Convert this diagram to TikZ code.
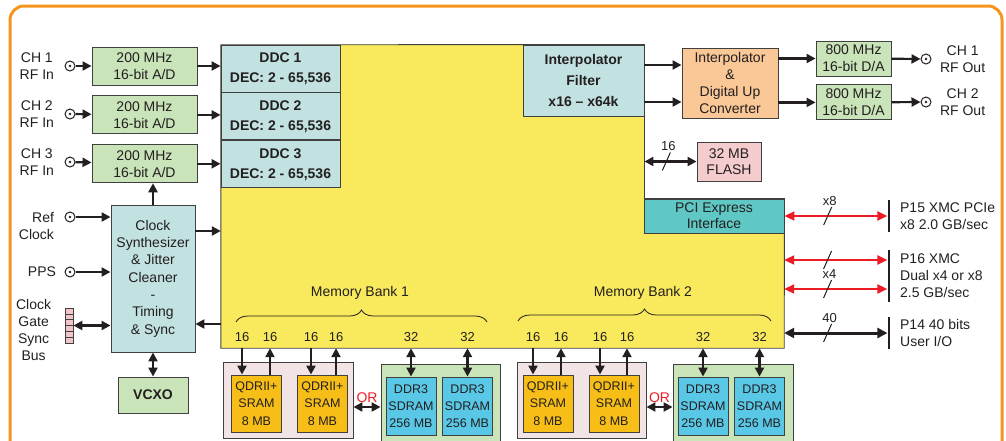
\documentclass[tikz,border=0pt]{standalone}
\usepackage{fontspec}
\setmainfont{Liberation Sans}
\usepackage{xcolor}
\usepackage{tikz}
\usetikzlibrary{arrows.meta,decorations.pathreplacing,decorations.markings,backgrounds,positioning,fit}

\definecolor{ink}{RGB}{35,31,32}
\definecolor{boxline}{RGB}{64,64,64}
\definecolor{fpgayellow}{RGB}{249,233,92}
\definecolor{ddcteal}{RGB}{193,226,224}
\definecolor{adgreen}{RGB}{200,228,184}
\definecolor{ducorange}{RGB}{249,200,150}
\definecolor{flashpink}{RGB}{245,204,206}
\definecolor{qdrbg}{RGB}{242,228,228}
\definecolor{qdrorange}{RGB}{247,190,24}
\definecolor{ddrcyan}{RGB}{88,200,230}
\definecolor{pciteal}{RGB}{95,200,196}
\definecolor{frameorange}{RGB}{247,148,29}
\definecolor{busred}{RGB}{237,28,36}
\definecolor{cellpink}{RGB}{242,196,202}

\begin{document}
\begin{tikzpicture}
		[x=1pt,y=-1pt,
		every node/.style={font=\fontsize{14}{17}\selectfont,text=ink},
		box/.style={draw=boxline,line width=0.9pt,inner sep=0pt,align=center},
		adbox/.style={box,fill=adgreen,minimum width=105,minimum height=38},
		dacbox/.style={box,fill=adgreen,minimum width=75,minimum height=35},
		ddcbox/.style={box,fill=ddcteal,minimum width=119,minimum height=47,font=\bfseries\fontsize{14}{20}\selectfont},
		qdrbox/.style={box,fill=qdrorange,minimum width=50,minimum height=57,font=\fontsize{12.5}{17.5}\selectfont},
		ddrbox/.style={box,fill=ddrcyan,minimum width=50,minimum height=58,font=\fontsize{12.5}{17}\selectfont},
		conn/.style={circle,draw=ink,line width=1pt,minimum size=10pt,inner sep=0pt,fill=white,
			path picture={\fill[ink] (path picture bounding box.center) circle (1.3pt);}},
		pbar/.style={fill=ink,minimum width=2.8,inner sep=0pt},
		num/.style={font=\fontsize{13}{15}\selectfont},
		arr/.style={draw=ink,line width=2.2pt,-{Triangle[length=9pt,width=9pt]}},
		dblarr/.style={draw=ink,line width=2.2pt,{Triangle[length=9pt,width=9pt]}-{Triangle[length=9pt,width=9pt]}},
		redbus/.style={draw=busred,line width=2pt,{Triangle[length=10pt,width=9pt]}-{Triangle[length=10pt,width=9pt]}},
		blackbus/.style={draw=ink,line width=3pt,{Triangle[length=10pt,width=10pt]}-{Triangle[length=10pt,width=10pt]}},
		buswidth/.style={postaction={decorate,decoration={markings,mark=at position 0.42 with
			{\draw[-,ink,line width=1pt] (-4pt,-9pt) -- (4pt,9pt); \node[num] at (2pt,15pt) {#1};}}}},
		brace/.style={decorate,decoration={brace,amplitude=12pt},draw=ink,line width=0.8pt}]
		\useasboundingbox (0,0) rectangle (1006,440);
		\clip (0,0) rectangle (1006,440);
		\draw[frameorange,line width=3pt,rounded corners=14pt] (10,6) rectangle (1002,480);

		\node[adbox] (ad1) at (144.5,66) {200 MHz\\16-bit A/D};
		\node[adbox,below=10pt of ad1] (ad2) {200 MHz\\16-bit A/D};
		\node[adbox,below=10pt of ad2] (ad3) {200 MHz\\16-bit A/D};
		\node[ddcbox] (ddc1) at (280.5,68.5) {DDC 1\\DEC: 2 - 65,536};
		\node[ddcbox,below=0pt of ddc1] (ddc2) {DDC 2\\DEC: 2 - 65,536};
		\node[ddcbox,below=0pt of ddc2] (ddc3) {DDC 3\\DEC: 2 - 65,536};
		\node[box,fill=ddcteal,minimum width=84,minimum height=147,font=\fontsize{14}{17.3}\selectfont] (clk) at (153,278.5)
			{Clock\\Synthesizer\\\& Jitter\\Cleaner\\-\\Timing\\\& Sync};
		\node[box,fill=adgreen,minimum width=70,minimum height=36,font=\bfseries\fontsize{14}{17}\selectfont] (vcxo) at (153,395) {VCXO};

		\node[box,fill=ddcteal,minimum width=121,minimum height=71,font=\bfseries\fontsize{14}{21}\selectfont] (ipf) at (583.5,80.5)
			{Interpolator\\Filter\\x16 -- x64k};
		\node[box,fill=ducorange,minimum width=96,minimum height=70] (duc) at (730,83) {Interpolator\\\&\\Digital Up\\Converter};
		\node[dacbox] (dac1) at (853.5,58.5) {800 MHz\\16-bit D/A};
		\node[dacbox,below=8pt of dac1] (dac2) {800 MHz\\16-bit D/A};
		\node[box,fill=flashpink,minimum width=64,minimum height=39,font=\fontsize{14}{16}\selectfont] (flash) at (729,161.5) {32 MB\\FLASH};
		\node[box,fill=pciteal,minimum width=140,minimum height=34,font=\fontsize{14}{16}\selectfont] (pci) at (714,216) {PCI Express\\Interface};
		\node[fit={(221,45) (784,348)},inner sep=0pt] (fpga) {};
		\begin{scope}[on background layer]
			\filldraw[fill=fpgayellow,draw=boxline,line width=0.9pt] (fpga.north west) -- (ipf.north east) -- (ipf.east |- pci.north)
				-- (pci.north east) -- (fpga.south east) -- (fpga.south west) -- cycle;
		\end{scope}

		\node[conn] (rf1) at (70,66) {};
		\node[conn] (rf2) at (70,114) {};
		\node[conn] (rf3) at (70,162) {};
		\node[conn] (refc) at (70,217) {};
		\node[conn] (pps) at (70,272) {};
		\node[conn] (out1) at (926,59) {};
		\node[conn] (out2) at (926,102) {};
		\node[fill=cellpink,draw=boxline,line width=0.7pt,minimum width=8,minimum height=35,inner sep=0pt,
			path picture={
				\draw[boxline,line width=0.6pt] ([yshift=-5.8pt]path picture bounding box.north west) -- ([yshift=-5.8pt]path picture bounding box.north east);
				\draw[boxline,line width=0.6pt] ([yshift=-11.7pt]path picture bounding box.north west) -- ([yshift=-11.7pt]path picture bounding box.north east);
				\draw[boxline,line width=0.6pt] ([yshift=-17.5pt]path picture bounding box.north west) -- ([yshift=-17.5pt]path picture bounding box.north east);
				\draw[boxline,line width=0.6pt] ([yshift=-23.3pt]path picture bounding box.north west) -- ([yshift=-23.3pt]path picture bounding box.north east);
				\draw[boxline,line width=0.6pt] ([yshift=-29.2pt]path picture bounding box.north west) -- ([yshift=-29.2pt]path picture bounding box.north east);
			}] (cgbar) at (69,325.5) {};

		\node[align=center,left=7pt of rf1] (rf1lbl) {CH 1\\RF In};
		\node[align=center,left=7pt of rf2] (rf2lbl) {CH 2\\RF In};
		\node[align=center,left=7pt of rf3] (rf3lbl) {CH 3\\RF In};
		\node[align=right,left=7pt of refc,yshift=-8.5pt] (reflbl) {Ref\\Clock};
		\node[left=5pt of pps] (ppslbl) {PPS};
		\node[align=center,left=10pt of cgbar,yshift=-4.5pt] (cglbl) {Clock\\Gate\\Sync\\Bus};
		\node[align=center,right=5pt of out1] (out1lbl) {CH 1\\RF Out};
		\node[align=center,right=5pt of out2] (out2lbl) {CH 2\\RF Out};

		\draw[arr] (rf1) -- (ad1);
		\draw[arr] (rf2) -- (ad2);
		\draw[arr] (rf3) -- (ad3);
		\draw[arr] (ad1.east) -- (ad1.east -| ddc1.west);
		\draw[arr] (ad2.east) -- (ad2.east -| ddc2.west);
		\draw[arr] (ad3.east) -- (ad3.east -| ddc3.west);
		\draw[arr] (clk.north) -- (clk.north |- ad3.south);
		\draw[arr] (refc) -- (refc -| clk.west);
		\draw[arr] (pps) -- (pps -| clk.west);
		\draw[dblarr] (cgbar) -- (cgbar -| clk.west);
		\coordinate (clkout) at ([yshift=47.5pt]clk.east);
		\coordinate (clkin) at ([yshift=-45.5pt]clk.east);
		\draw[arr] (clkout) -- (clkout -| fpga.west);
		\draw[arr] (clkin -| fpga.west) -- (clkin);
		\draw[dblarr] (clk) -- (vcxo);

		\coordinate (ipfa) at ([yshift=15.5pt]ipf.east);
		\coordinate (ipfb) at ([yshift=-21.5pt]ipf.east);
		\draw[arr] (ipfa) -- (ipfa -| duc.west);
		\draw[arr] (ipfb) -- (ipfb -| duc.west);
		\draw[arr] (dac1.west -| duc.east) -- (dac1.west);
		\draw[arr] (dac2.west -| duc.east) -- (dac2.west);
		\draw[arr] (dac1) -- (out1);
		\draw[arr] (dac2) -- (out2);
		\draw[dblarr,buswidth=16] (flash.west -| ipf.east) -- (flash.west);

		\node[pbar,minimum height=32] (p15bar) at (889,216) {};
		\node[pbar,minimum height=52] (p16bar) at (889,276) {};
		\node[pbar,minimum height=32] (p14bar) at (889,333) {};
		\node[align=left,right=6pt of p15bar] (p15lbl) {P15 XMC PCIe\\x8 2.0 GB/sec};
		\node[align=left,right=6pt of p16bar] (p16lbl) {P16 XMC\\Dual x4 or x8\\2.5 GB/sec};
		\node[align=left,right=6pt of p14bar] (p14lbl) {P14 40 bits\\User I/O};
		\coordinate (p16a) at ([yshift=16pt]p16bar.west);
		\coordinate (p16b) at ([yshift=-13pt]p16bar.west);
		\draw[redbus,buswidth=x8] (pci.east) -- (pci.east -| p15bar.west);
		\draw[redbus,buswidth={}] (p16a -| fpga.east) -- (p16a);
		\draw[redbus,buswidth=x4] (p16b -| fpga.east) -- (p16b);
		\draw[blackbus,buswidth=40] (p14bar.west -| fpga.east) -- (p14bar.west);

		\node (mb1) at (360,293) {Memory Bank 1};
		\node (mb2) at (643,293) {Memory Bank 2};
		\draw[brace] (236,322) -- (487,322);
		\draw[brace] (518,321) -- (771,321);

		\node[box,fill=qdrbg,minimum width=130,minimum height=76] (qbg1) at (288,400) {};
		\node[box,fill=adgreen,minimum width=119,minimum height=96] (dbg1) at (440.5,412) {};
		\node[qdrbox] (qdra1) at (256.5,403.5) {QDRII+\\SRAM\\8 MB};
		\node[qdrbox] (qdrb1) at (322.5,403.5) {QDRII+\\SRAM\\8 MB};
		\node[ddrbox] (ddra1) at (411,406) {DDR3\\SDRAM\\256 MB};
		\node[ddrbox] (ddrb1) at (467.5,406) {DDR3\\SDRAM\\256 MB};
		\node[box,fill=qdrbg,minimum width=129,minimum height=76] (qbg2) at (581.5,400) {};
		\node[box,fill=adgreen,minimum width=120,minimum height=96] (dbg2) at (733,412) {};
		\node[qdrbox] (qdra2) at (548,403.5) {QDRII+\\SRAM\\8 MB};
		\node[qdrbox] (qdrb2) at (614,403.5) {QDRII+\\SRAM\\8 MB};
		\node[ddrbox] (ddra2) at (703,406) {DDR3\\SDRAM\\256 MB};
		\node[ddrbox] (ddrb2) at (759.5,406) {DDR3\\SDRAM\\256 MB};

		\coordinate (qa1i) at ([xshift=-14.5pt]qdra1.north);
		\coordinate (qa1o) at ([xshift=13.5pt]qdra1.north);
		\coordinate (qb1i) at ([xshift=-11.5pt]qdrb1.north);
		\coordinate (qb1o) at ([xshift=13.5pt]qdrb1.north);
		\coordinate (qa2i) at ([xshift=-15pt]qdra2.north);
		\coordinate (qa2o) at ([xshift=13pt]qdra2.north);
		\coordinate (qb2i) at ([xshift=-14pt]qdrb2.north);
		\coordinate (qb2o) at ([xshift=13pt]qdrb2.north);
		\draw[arr] (qa1i |- fpga.south) node[num,above=2pt] {16} -- (qa1i);
		\draw[arr] (qa1o) -- (qa1o |- fpga.south) node[num,above=2pt] {16};
		\draw[arr] (qb1i |- fpga.south) node[num,above=2pt] {16} -- (qb1i);
		\draw[arr] (qb1o) -- (qb1o |- fpga.south) node[num,above=2pt] {16};
		\draw[dblarr] (ddra1.north |- fpga.south) node[num,above=2pt] {32} -- (ddra1.north);
		\draw[dblarr] (ddrb1.north |- fpga.south) node[num,above=2pt] {32} -- (ddrb1.north);
		\draw[arr] (qa2i |- fpga.south) node[num,above=2pt] {16} -- (qa2i);
		\draw[arr] (qa2o) -- (qa2o |- fpga.south) node[num,above=2pt] {16};
		\draw[arr] (qb2i |- fpga.south) node[num,above=2pt] {16} -- (qb2i);
		\draw[arr] (qb2o) -- (qb2o |- fpga.south) node[num,above=2pt] {16};
		\draw[dblarr] (ddra2.north |- fpga.south) node[num,above=2pt] {32} -- (ddra2.north);
		\draw[dblarr] (ddrb2.north |- fpga.south) node[num,above=2pt] {32} -- (ddrb2.north);

		\coordinate (or1) at ([yshift=-7pt]qbg1.east);
		\coordinate (or2) at ([yshift=-7pt]qbg2.east);
		\draw[dblarr] (or1) -- node[above=0pt,text=busred] {OR} (or1 -| dbg1.west);
		\draw[dblarr] (or2) -- node[above=0pt,text=busred] {OR} (or2 -| dbg2.west);
\end{tikzpicture}
\end{document}
